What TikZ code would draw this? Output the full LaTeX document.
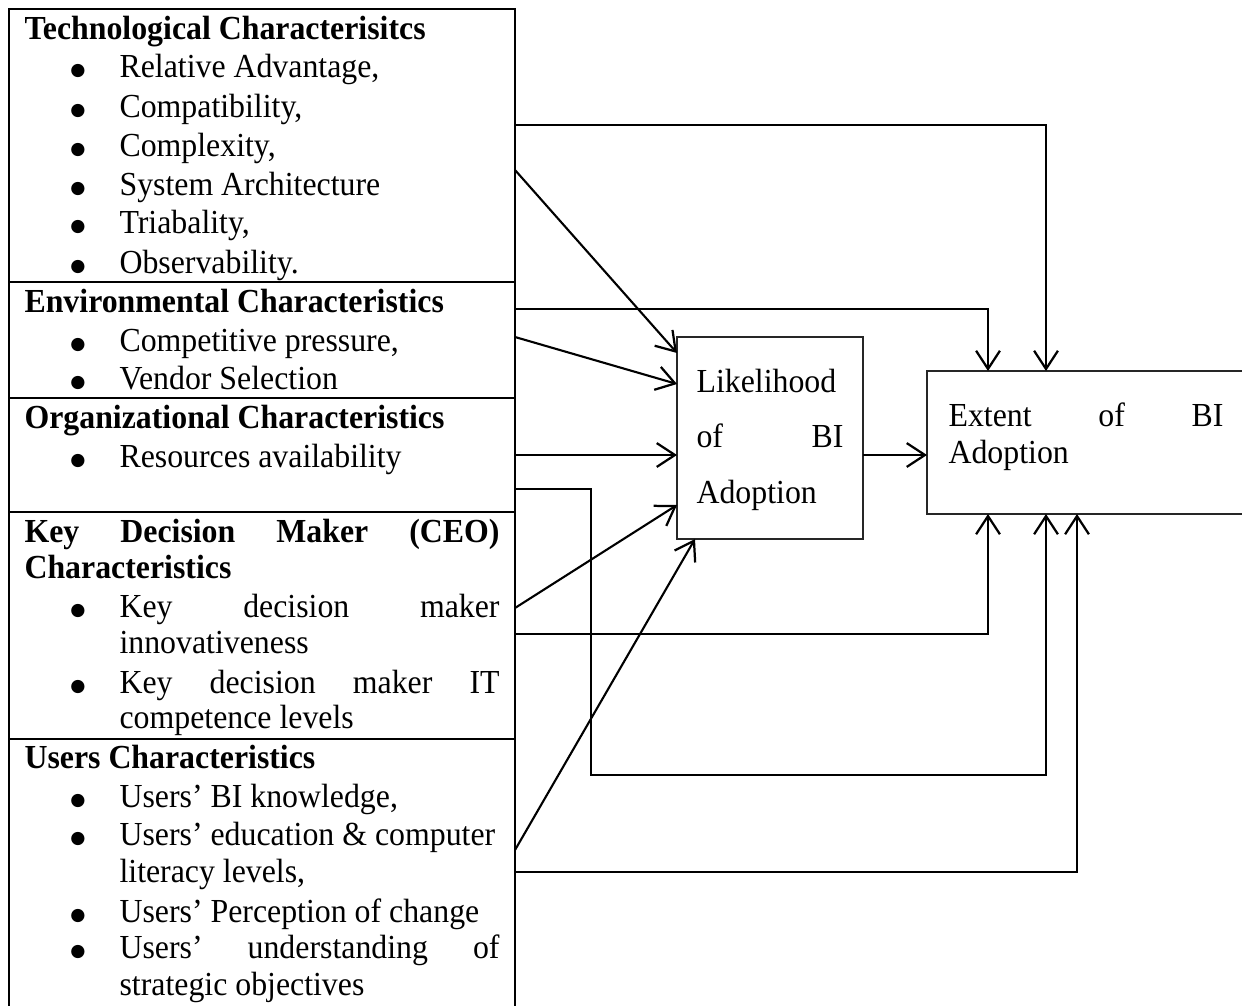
\documentclass[tikz,border=0pt]{standalone}
\usepackage{fontspec}
\setmainfont{Liberation Serif}[FakeStretch=0.947]
\newfontfamily\symfont{DejaVu Sans}
\usetikzlibrary{arrows.meta,calc}
\newlength\pxu
\setlength\pxu{0.357pt}
\newcommand\bigbul{\raisebox{0.45pt}{\symfont\fontsize{6.2}{7}\selectfont ●}}
\begin{document}
\begin{tikzpicture}[x=0.357pt,y=-0.357pt,
  sec/.style={draw, line width=0.7pt, anchor=north west, inner sep=0pt, outer sep=0pt, minimum width=506\pxu},
  outbox/.style={draw=black!85, line width=0.45pt, anchor=north west, inner sep=0pt, outer sep=0pt},
  ln/.style={anchor=base west, inner sep=0pt, font=\fontsize{12}{13.8}\selectfont},
  hd/.style={anchor=base west, inner sep=0pt, font=\fontsize{12}{13.8}\selectfont\bfseries},
  bul/.style={anchor=base, inner sep=0pt},
  conn/.style={line width=0.75pt, -{Straight Barb[length=6.5pt,width=8.5pt,line width=0.8pt]}},
]
\useasboundingbox (0,0) rectangle (1242,1005);
\clip (0,0) rectangle (1242,1005);

% left column sections
\node[sec, minimum height=273\pxu] (tech) at (9,9) {};
\node[sec, minimum height=116\pxu] (env) at (9,282) {};
\node[sec, minimum height=114\pxu] (org) at (9,398) {};
\node[sec, minimum height=227\pxu] (key) at (9,512) {};
\node[sec, minimum height=290\pxu] (usr) at (9,739) {};

% Technological
\node[hd] (th) at (24,39) {Technological Characterisitcs};
\node[bul] (tb1) at (78,77) {\bigbul};  \node[ln] (tt1) at (119,77) {Relative Advantage,};
\node[bul] (tb2) at (78,117) {\bigbul}; \node[ln] (tt2) at (119,117) {Compatibility,};
\node[bul] (tb3) at (78,156) {\bigbul}; \node[ln] (tt3) at (119,156) {Complexity,};
\node[bul] (tb4) at (78,195) {\bigbul}; \node[ln] (tt4) at (119,195) {System Architecture};
\node[bul] (tb5) at (78,233) {\bigbul}; \node[ln] (tt5) at (119,233) {Triabality,};
\node[bul] (tb6) at (78,273) {\bigbul}; \node[ln] (tt6) at (119,273) {Observability.};

% Environmental
\node[hd] (eh) at (24,312) {Environmental Characteristics};
\node[bul] (eb1) at (78,351) {\bigbul}; \node[ln] (et1) at (119,351) {Competitive pressure,};
\node[bul] (eb2) at (78,389) {\bigbul}; \node[ln] (et2) at (119,389) {Vendor Selection};

% Organizational
\node[hd] (oh) at (24,428) {Organizational Characteristics};
\node[bul] (ob1) at (78,467) {\bigbul}; \node[ln] (ot1) at (119,467) {Resources availability};

% Key decision maker
\node[hd] (kh1) at (24,542) {\makebox[475\pxu][s]{Key Decision Maker (CEO)}};
\node[hd] (kh2) at (24,578) {Characteristics};
\node[bul] (kb1) at (78,617) {\bigbul}; \node[ln] (kt1) at (119,617) {\makebox[380\pxu][s]{Key decision maker}};
\node[ln] (kt1b) at (119,653) {innovativeness};
\node[bul] (kb2) at (78,693) {\bigbul}; \node[ln] (kt2) at (119,693) {\makebox[380\pxu][s]{Key decision maker IT}};
\node[ln] (kt2b) at (119,728) {competence levels};

% Users
\node[hd] (uh) at (24,768) {Users Characteristics};
\node[bul] (ub1) at (78,807) {\bigbul}; \node[ln] (ut1) at (119,807) {Users’ BI knowledge,};
\node[bul] (ub2) at (78,845) {\bigbul}; \node[ln] (ut2) at (119,845) {Users’ education \& computer};
\node[ln] (ut2b) at (119,882) {literacy levels,};
\node[bul] (ub3) at (78,922) {\bigbul}; \node[ln] (ut3) at (119,922) {Users’ Perception of change};
\node[bul] (ub4) at (78,958) {\bigbul}; \node[ln] (ut4) at (119,958) {\makebox[380\pxu][s]{Users’ understanding of}};
\node[ln] (ut4b) at (119,995) {strategic objectives};

% Likelihood box
\node[outbox, minimum width=186\pxu, minimum height=202\pxu] (Lk) at (677,337) {};
\node[ln] (lk1) at (696,392) {Likelihood};
\node[ln] (lk2) at (696,447) {\makebox[147\pxu][s]{of BI}};
\node[ln] (lk3) at (696,503) {Adoption};

% Extent box
\node[outbox, minimum width=340\pxu, minimum height=143\pxu] (Ex) at (927,371) {};
\node[ln] (ex1) at (948,426) {\makebox[275\pxu][s]{Extent of BI}};
\node[ln] (ex2) at (948,463) {Adoption};

% connector anchors
\coordinate (s1) at (515,125);
\coordinate (s2) at (515,170);
\coordinate (s3) at (515,309);
\coordinate (s4) at (515,337);
\coordinate (s5) at (515,455);
\coordinate (s7) at (515,489);
\coordinate (s8) at (515,608);
\coordinate (s9) at (515,634);
\coordinate (s10) at (515,850);
\coordinate (s11) at (515,872);
\coordinate (xA) at (988,0);
\coordinate (xB) at (1046,0);
\coordinate (xC) at (1077,0);
\coordinate (xD) at (591,0);
\coordinate (xE) at (695,0);
\coordinate (yD) at (0,775);
\coordinate (t2) at ($(Lk.north west)+(0,16)$);
\coordinate (t4) at ($(Lk.north west)+(0,47)$);
\coordinate (t8) at ($(Lk.north west)+(0,168)$);

% connectors
\draw[conn] (s1) -| (xB |- Ex.north);
\draw[conn] (s2) -- (t2);
\draw[conn] (s3) -| (xA |- Ex.north);
\draw[conn] (s4) -- (t4);
\draw[conn] (s5) -- (s5 -| Lk.west);
\draw[conn] (s5 -| Lk.east) -- (s5 -| Ex.west);
\draw[conn] (s7) -| (xD |- yD) -| (xB |- Ex.south);
\draw[conn] (s8) -- (t8);
\draw[conn] (s9) -| (xA |- Ex.south);
\draw[conn] (s10) -- (xE |- Lk.south);
\draw[conn] (s11) -| (xC |- Ex.south);
\end{tikzpicture}
\end{document}
